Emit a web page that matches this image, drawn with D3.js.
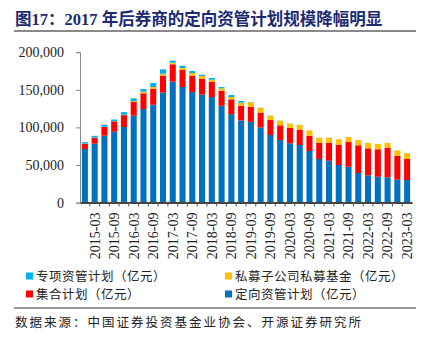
<!DOCTYPE html>
<html><head><meta charset="utf-8">
<script src="https://cdn.jsdelivr.net/npm/d3@7"></script>
<style>
body{margin:0;background:#fff;}
svg{display:block;}
</style></head>
<body><svg id="c" width="433" height="343"></svg>
<script>
const quarters = ["2014-12","2015-03","2015-06","2015-09","2015-12","2016-03","2016-06","2016-09","2016-12","2017-03","2017-06","2017-09","2017-12","2018-03","2018-06","2018-09","2018-12","2019-03","2019-06","2019-09","2019-12","2020-03","2020-06","2020-09","2020-12","2021-03","2021-06","2021-09","2021-12","2022-03","2022-06","2022-09","2022-12","2023-03"];
const dingxiang = [71300,78300,89000,94300,100500,115600,124500,130200,146200,160800,153700,147000,143500,140400,128700,117600,109200,107400,100100,89900,83200,78900,76600,68600,58000,55700,50000,47700,39400,36300,34400,33600,30500,30000];
const jihe = [7000,8000,11500,13700,15800,18200,20800,21300,22600,23100,22600,21800,21300,20400,19900,19700,19700,20100,19500,19900,19600,20300,20400,20400,21300,23600,27000,32900,36800,35900,36500,39400,31500,28000];
const simu = [200,200,300,300,500,1200,2200,2200,2600,2100,2700,3500,3500,2600,3300,3100,4000,6000,6200,5800,6100,5700,6200,7100,7000,7000,7200,6600,7000,7100,7000,6300,7500,7600];
const zhuanxiang = [1900,2300,2700,2200,3500,3700,3500,5300,5800,2800,3000,2700,1700,2300,1700,2600,2200,300,300,200,200,200,100,100,100,100,100,100,100,100,100,100,100,100];
const yTicks = [0,50000,100000,150000,200000];
const seriesNames = ["定向资管计划（亿元）","集合计划（亿元）","私募子公司私募基金（亿元）","专项资管计划（亿元）"];
const seriesColors = ["#0070C0","#FF0000","#FFC000","#00B0F0"];

const svg = d3.select("#c");
const serif = "'Liberation Serif','Times New Roman',serif";
const cjk = "'Noto Sans CJK SC','Noto Sans',sans-serif";

// title
svg.append("text").attr("x",15).attr("y",25)
  .attr("font-family","'Liberation Serif','Noto Sans CJK SC',serif")
  .attr("font-weight","bold").attr("font-size",16.5).attr("fill","#1B2A72")
  .text("图17：2017 年后券商的定向资管计划规模降幅明显");
svg.append("line").attr("x1",14).attr("x2",416).attr("y1",31).attr("y2",31)
  .attr("stroke","#8a8a8a").attr("stroke-width",2);

const x = d3.scaleBand().domain(quarters).range([80,412]).paddingInner(0.38).paddingOuter(0.19);
const y = d3.scaleLinear().domain([0,200000]).range([202.6,52.2]);

const data = quarters.map((q,i)=>({q, a:dingxiang[i], b:jihe[i], c:simu[i], d:zhuanxiang[i]}));
const stack = d3.stack().keys(["a","b","c","d"])(data);

const g = svg.append("g");
stack.forEach((layer,k)=>{
  g.selectAll(null).data(layer).enter().append("rect")
    .attr("x",d=>x(d.data.q)).attr("width",x.bandwidth())
    .attr("y",d=>y(d[1])).attr("height",d=>Math.max(0,y(d[0])-y(d[1])))
    .attr("fill",seriesColors[k]);
});

// y axis
const ya = svg.append("g").attr("transform","translate(80,0)")
  .call(d3.axisLeft(y).tickValues(yTicks).tickSize(4).tickPadding(12).tickFormat(d3.format(",")));
ya.select(".domain").attr("stroke","#8c8c8c");
ya.selectAll(".tick line").attr("stroke","#8c8c8c");
ya.selectAll("text").attr("font-family",serif).attr("font-size",14).attr("fill","#222");

// x axis
const xa = svg.append("g").attr("transform","translate(0,202.6)")
  .call(d3.axisBottom(x).tickSize(0).tickFormat(d=>quarters.indexOf(d)%2===1?d:""));
xa.select(".domain").attr("stroke","#444").attr("stroke-width",2);
xa.selectAll("text").attr("font-family",serif).attr("font-size",14).attr("fill","#222")
  .attr("transform","rotate(-90)").attr("text-anchor","end").attr("dx","-10").attr("dy","0.35em").attr("y",0);
// small ticks at band boundaries
svg.append("g").selectAll("line").data(quarters.slice(1)).enter().append("line")
  .attr("x1",d=>x(d)-x.step()*x.paddingInner()/2).attr("x2",d=>x(d)-x.step()*x.paddingInner()/2)
  .attr("y1",202.6).attr("y2",206.5).attr("stroke","#555").attr("stroke-width",1);

// legend
const legendItems = [
  {name:seriesNames[3], color:seriesColors[3], x:26, y:276},
  {name:seriesNames[2], color:seriesColors[2], x:225, y:276},
  {name:seriesNames[1], color:seriesColors[1], x:26, y:294},
  {name:seriesNames[0], color:seriesColors[0], x:225, y:294}
];
const lg = svg.append("g").selectAll("g").data(legendItems).enter().append("g");
lg.append("rect").attr("x",d=>d.x).attr("y",d=>d.y-3.5).attr("width",7).attr("height",7).attr("fill",d=>d.color);
lg.append("text").attr("x",d=>d.x+10).attr("y",d=>d.y).attr("dy","0.36em")
  .attr("font-family",cjk).attr("font-size",12.5).attr("letter-spacing",0.5).attr("fill","#222")
  .text(d=>d.name);

svg.append("line").attr("x1",14).attr("x2",416).attr("y1",308).attr("y2",308)
  .attr("stroke","#333").attr("stroke-width",1);
svg.append("text").attr("x",15).attr("y",327)
  .attr("font-family",cjk).attr("font-size",12.5).attr("letter-spacing",2).attr("fill","#222")
  .text("数据来源：中国证券投资基金业协会、开源证券研究所");
</script></body></html>
